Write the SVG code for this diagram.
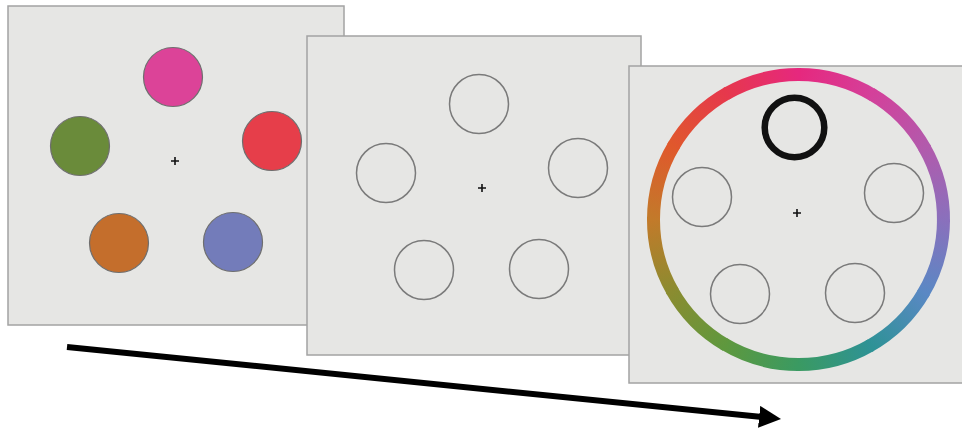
<svg xmlns="http://www.w3.org/2000/svg" width="962" height="433" viewBox="0 0 962 433">
<style>
.panel{fill:#e6e6e4;stroke:#a3a3a3;stroke-width:1.5}
.slot{fill:none;stroke:#7a7a7a;stroke-width:1.5}
.disc{stroke:#6e6e6e;stroke-width:1.2}
.cross{stroke:#111;stroke-width:1.6}
.ring{fill:none;stroke-width:13}
</style>
<defs>
<marker id="head" markerUnits="userSpaceOnUse" markerWidth="24" markerHeight="24" refX="3" refY="11" orient="auto">
<path d="M0,0 L22,11 L0,22 z" fill="#000"/>
</marker>
<linearGradient id="g0" gradientUnits="userSpaceOnUse" x1="798.5" y1="74.5" x2="871" y2="93.93"><stop offset="0" stop-color="#e6287e"/><stop offset="1" stop-color="#d4409a"/></linearGradient>
<linearGradient id="g1" gradientUnits="userSpaceOnUse" x1="871" y1="93.93" x2="924.07" y2="147"><stop offset="0" stop-color="#d4409a"/><stop offset="1" stop-color="#b25aac"/></linearGradient>
<linearGradient id="g2" gradientUnits="userSpaceOnUse" x1="924.07" y1="147" x2="943.5" y2="219.5"><stop offset="0" stop-color="#b25aac"/><stop offset="1" stop-color="#8a70bc"/></linearGradient>
<linearGradient id="g3" gradientUnits="userSpaceOnUse" x1="943.5" y1="219.5" x2="924.07" y2="292"><stop offset="0" stop-color="#8a70bc"/><stop offset="1" stop-color="#5a88c4"/></linearGradient>
<linearGradient id="g4" gradientUnits="userSpaceOnUse" x1="924.07" y1="292" x2="871" y2="345.07"><stop offset="0" stop-color="#5a88c4"/><stop offset="1" stop-color="#2e9296"/></linearGradient>
<linearGradient id="g5" gradientUnits="userSpaceOnUse" x1="871" y1="345.07" x2="798.5" y2="364.5"><stop offset="0" stop-color="#2e9296"/><stop offset="1" stop-color="#3a9a62"/></linearGradient>
<linearGradient id="g6" gradientUnits="userSpaceOnUse" x1="798.5" y1="364.5" x2="726" y2="345.07"><stop offset="0" stop-color="#3a9a62"/><stop offset="1" stop-color="#5e983e"/></linearGradient>
<linearGradient id="g7" gradientUnits="userSpaceOnUse" x1="726" y1="345.07" x2="672.93" y2="292"><stop offset="0" stop-color="#5e983e"/><stop offset="1" stop-color="#8a8c30"/></linearGradient>
<linearGradient id="g8" gradientUnits="userSpaceOnUse" x1="672.93" y1="292" x2="653.5" y2="219.5"><stop offset="0" stop-color="#8a8c30"/><stop offset="1" stop-color="#c27a2a"/></linearGradient>
<linearGradient id="g9" gradientUnits="userSpaceOnUse" x1="653.5" y1="219.5" x2="672.93" y2="147"><stop offset="0" stop-color="#c27a2a"/><stop offset="1" stop-color="#e0582c"/></linearGradient>
<linearGradient id="g10" gradientUnits="userSpaceOnUse" x1="672.93" y1="147" x2="726" y2="93.93"><stop offset="0" stop-color="#e0582c"/><stop offset="1" stop-color="#e6384c"/></linearGradient>
<linearGradient id="g11" gradientUnits="userSpaceOnUse" x1="726" y1="93.93" x2="798.5" y2="74.5"><stop offset="0" stop-color="#e6384c"/><stop offset="1" stop-color="#e6287e"/></linearGradient>
</defs>

<g id="panel-memory">
<rect class="panel" x="8" y="6" width="336" height="319"/>
<circle class="disc" cx="173" cy="77" r="29.5" fill="#dc4398"/>
<circle class="disc" cx="80" cy="146" r="29.5" fill="#6a8b3a"/>
<circle class="disc" cx="272" cy="141" r="29.5" fill="#e63e4a"/>
<circle class="disc" cx="119" cy="243" r="29.5" fill="#c46e2c"/>
<circle class="disc" cx="233" cy="242" r="29.5" fill="#737cba"/>
<path class="cross" d="M171,161 H179 M175,157 V165"/>
</g>

<g id="panel-delay">
<rect class="panel" x="307" y="36" width="334" height="319"/>
<circle class="slot" cx="479" cy="104" r="29.5"/>
<circle class="slot" cx="386" cy="173" r="29.5"/>
<circle class="slot" cx="578" cy="168" r="29.5"/>
<circle class="slot" cx="424" cy="270" r="29.5"/>
<circle class="slot" cx="539" cy="269" r="29.5"/>
<path class="cross" d="M478,188 H486 M482,184 V192"/>
</g>

<g id="panel-response">
<rect class="panel" x="629" y="66" width="340" height="317"/>
<g id="color-wheel">
<path class="ring" stroke="url(#g0)" d="M798.5,74.5 A145,145 0 0 1 873.18,95.21"/>
<path class="ring" stroke="url(#g1)" d="M871,93.93 A145,145 0 0 1 925.32,149.2"/>
<path class="ring" stroke="url(#g2)" d="M924.07,147 A145,145 0 0 1 943.48,222.03"/>
<path class="ring" stroke="url(#g3)" d="M943.5,219.5 A145,145 0 0 1 922.79,294.18"/>
<path class="ring" stroke="url(#g4)" d="M924.07,292 A145,145 0 0 1 868.8,346.32"/>
<path class="ring" stroke="url(#g5)" d="M871,345.07 A145,145 0 0 1 795.97,364.48"/>
<path class="ring" stroke="url(#g6)" d="M798.5,364.5 A145,145 0 0 1 723.82,343.79"/>
<path class="ring" stroke="url(#g7)" d="M726,345.07 A145,145 0 0 1 671.68,289.8"/>
<path class="ring" stroke="url(#g8)" d="M672.93,292 A145,145 0 0 1 653.52,216.97"/>
<path class="ring" stroke="url(#g9)" d="M653.5,219.5 A145,145 0 0 1 674.21,144.82"/>
<path class="ring" stroke="url(#g10)" d="M672.93,147 A145,145 0 0 1 728.2,92.68"/>
<path class="ring" stroke="url(#g11)" d="M726,93.93 A145,145 0 0 1 801.03,74.52"/>
</g>
<circle cx="794.5" cy="127.5" r="29.8" fill="none" stroke="#111" stroke-width="6.5"/>
<circle class="slot" cx="702" cy="197" r="29.5"/>
<circle class="slot" cx="894" cy="193" r="29.5"/>
<circle class="slot" cx="740" cy="294" r="29.5"/>
<circle class="slot" cx="855" cy="293" r="29.5"/>
<path class="cross" d="M793,213 H801 M797,209 V217"/>
</g>

<g id="connectors">
<line x1="67" y1="347" x2="762.1" y2="417.1" stroke="#000" stroke-width="6" marker-end="url(#head)"/>
</g>
</svg>
